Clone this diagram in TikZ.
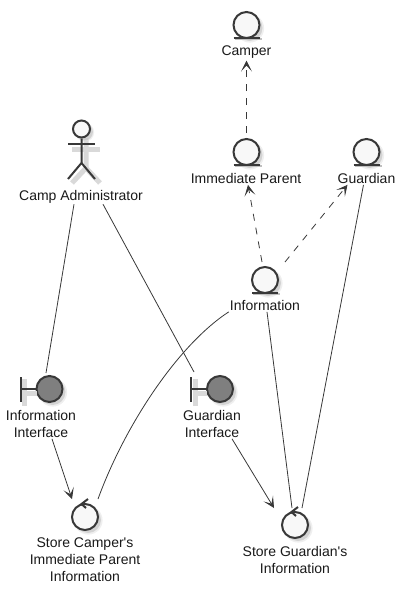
\documentclass[tikz,border=0pt]{standalone}
\usepackage{fontspec}
\newfontfamily\umlfont{Liberation Sans}
\usetikzlibrary{arrows.meta,shadows}
\definecolor{umlline}{HTML}{383838}
\definecolor{umlfill}{HTML}{F8F8F8}
\definecolor{umlgrey}{HTML}{7F7F7F}
\tikzset{
    >={Stealth[length=11pt,width=11pt,inset=6pt]},
    conn/.style={draw=umlline, line width=0.8pt},
    flow/.style={conn, dash pattern=on 7pt off 7pt},
    icon/.style={draw=umlline, line width=2pt},
    iconshadow/.style={draw=gray!30, line width=5pt},
    disc/.style={circle, icon, fill=umlfill, inner sep=0pt, minimum size=26pt,
        drop shadow={shadow xshift=3pt, shadow yshift=-3pt, fill=gray!25, shadow scale=1.1},
        drop shadow={shadow xshift=3pt, shadow yshift=-3pt, fill=gray!55}},
    entitydisc/.style={disc},
    boundarydisc/.style={disc, fill=umlgrey},
    head/.style={disc, minimum size=17pt},
    lbl/.style={align=center, inner sep=1pt, text=black!90,
        font=\umlfont\fontsize{14}{17}\selectfont}
}
\begin{document}
\begin{tikzpicture}[x=1pt, y=-1pt]
    \useasboundingbox (0, 0) rectangle (406, 594);

    % Entities
    \node[entitydisc] (camper) at (246.5, 25) {};
    \node[entitydisc] (parent) at (246.5, 152) {};
    \node[entitydisc] (guardian) at (366.5, 152) {};
    \node[entitydisc] (information) at (265, 280) {};
    \foreach \name in {camper, parent, guardian, information} {
        \draw[icon, draw=gray!50] ([shift={(-12, 14)}]\name.center) -- ([shift={(15, 14)}]\name.center);
        \draw[icon] ([shift={(-13, 13)}]\name.center) -- ([shift={(13, 13)}]\name.center);
    }
    \node[lbl] (camper_text) at (246.5, 52) {Camper};
    \node[lbl] (parent_text) at (246, 178.5) {Immediate Parent};
    \node[lbl] (guardian_text) at (366.5, 178.5) {Guardian};
    \node[lbl] (information_text) at (265, 305.5) {Information};

    % Actor
    \draw[iconshadow] (72, 149) -- (100, 149);
    \draw[iconshadow] (86, 138) -- (86, 168) -- (72, 183);
    \draw[iconshadow] (86, 168) -- (100, 183);
    \node[head] (admin) at (81.5, 129) {};
    \draw[icon] (admin.south) -- ([yshift=-34pt]admin.center) -- ([shift={(-13.5, 50)}]admin.center);
    \draw[icon] ([yshift=-34pt]admin.center) -- ([shift={(13.5, 50)}]admin.center);
    \draw[icon] ([shift={(-13.5, 15)}]admin.center) -- ([shift={(13.5, 15)}]admin.center);
    \node[lbl] (admin_text) at (81, 196.5) {Camp Administrator};

    % Boundaries
    \node[boundarydisc] (info_if) at (49.5, 389) {};
    \node[boundarydisc] (guardian_if) at (220, 389) {};
    \foreach \name in {info_if, guardian_if} {
        \draw[iconshadow] ([shift={(-25, -10)}]\name.center) -- ([shift={(-25, 17)}]\name.center);
        \draw[iconshadow] ([shift={(-25, 4)}]\name.center) -- ([shift={(-13, 4)}]\name.center);
        \draw[icon] ([shift={(-29, -12)}]\name.center) -- ([shift={(-29, 13)}]\name.center);
        \draw[icon] ([shift={(-29, 0)}]\name.center) -- (\name.west);
    }
    \node[lbl] (info_if_text) at (41, 424) {Information\\Interface};
    \node[lbl] (guardian_if_text) at (212, 424) {Guardian\\Interface};

    % Controls
    \node[disc] (store_camper) at (85, 517) {};
    \node[disc] (store_guardian) at (295, 525) {};
    \foreach \name in {store_camper, store_guardian} {
        \draw[icon] ([shift={(1, -9)}]\name.center) -- ([shift={(-3.5, -13)}]\name.center) -- ([shift={(3, -18)}]\name.center);
    }
    \node[lbl] (store_camper_text) at (85, 560) {Store Camper's\\Immediate Parent\\Information};
    \node[lbl] (store_guardian_text) at (295, 560) {Store Guardian's\\Information};

    % Flèches pointillées
    \draw[flow, ->] (parent.north) ++(0, -5) -- ([yshift=-1pt]camper_text.south);
    \draw[flow, ->] ([shift={(-3, -18)}]information.center) -- ([xshift=2pt]parent_text.south);
    \draw[flow, ->] ([shift={(20, -18)}]information.center) -- ([xshift=-19pt]guardian_text.south);

    % Flèches pleines
    \draw[conn] ([xshift=-7pt]admin_text.south) -- ([shift={(-3.5, -16)}]info_if.center);
    \draw[conn] ([xshift=22pt]admin_text.south) -- ([shift={(-26, -17)}]guardian_if.center);
    \draw[conn, ->] ([xshift=11pt]info_if_text.south) -- ([shift={(-13, -18)}]store_camper.center);
    \draw[conn, ->] ([xshift=20pt]guardian_if_text.south) -- ([shift={(-21, -17)}]store_guardian.center);
    \draw[conn] (information_text.south west) .. controls (178, 345) and (125, 425) .. ([shift={(13, -18)}]store_camper.center);
    \draw[conn] ([xshift=2pt]information_text.south) -- ([shift={(-3, -17)}]store_guardian.center);
    \draw[conn] ([xshift=-3pt]guardian_text.south) -- ([shift={(7, -17)}]store_guardian.center);
\end{tikzpicture}
\end{document}
